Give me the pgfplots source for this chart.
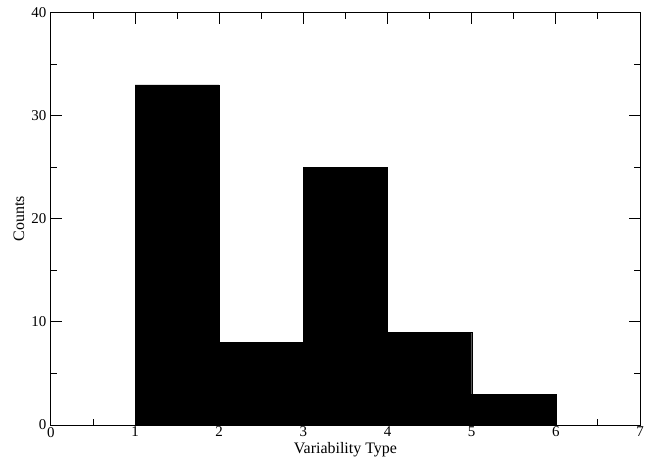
\documentclass[border=0pt]{standalone}
\usepackage{fontspec}
\setmainfont{Liberation Serif}
\usepackage{pgfplots}
\pgfplotsset{compat=1.18}

\begin{document}
\begin{tikzpicture}
	\begin{axis}[
		scale only axis,
		width=590pt,
		height=413pt,
		xmin=0, xmax=7,
		ymin=0, ymax=40,
		xtick={0,1,2,3,4,5,6,7},
		ytick={0,10,20,30,40},
		minor x tick num=1,
		minor y tick num=1,
		tick align=inside,
		major tick length=11.5pt,
		minor tick length=6.5pt,
		tick style={black, line width=0.9pt},
		axis line style={line width=0.9pt},
		/pgf/number format/assume math mode=true,
		tick label style={font=\fontsize{15}{17}\selectfont},
		yticklabel style={xshift=-1pt},
		xticklabel style={yshift=1.5pt},
		label style={font=\fontsize{16}{18}\selectfont},
		xlabel={Variability Type},
		ylabel={Counts},
		xlabel style={at={(axis description cs:0.5,-0.0702)}, anchor=base},
		ylabel style={at={(axis description cs:-0.0456,0.5)}, anchor=base},
		]
		\addplot[ybar interval, fill=black, draw=black] coordinates {
			(1,33)
			(2,8)
			(3,25)
			(4,9)
			(5,3)
			(6,3)
		};
	\end{axis}
	\pgfresetboundingbox
	\path (current axis.south west) ++(-51pt,-40pt) rectangle (current axis.north east) ++(5pt,12.7pt);
\end{tikzpicture}
\end{document}
